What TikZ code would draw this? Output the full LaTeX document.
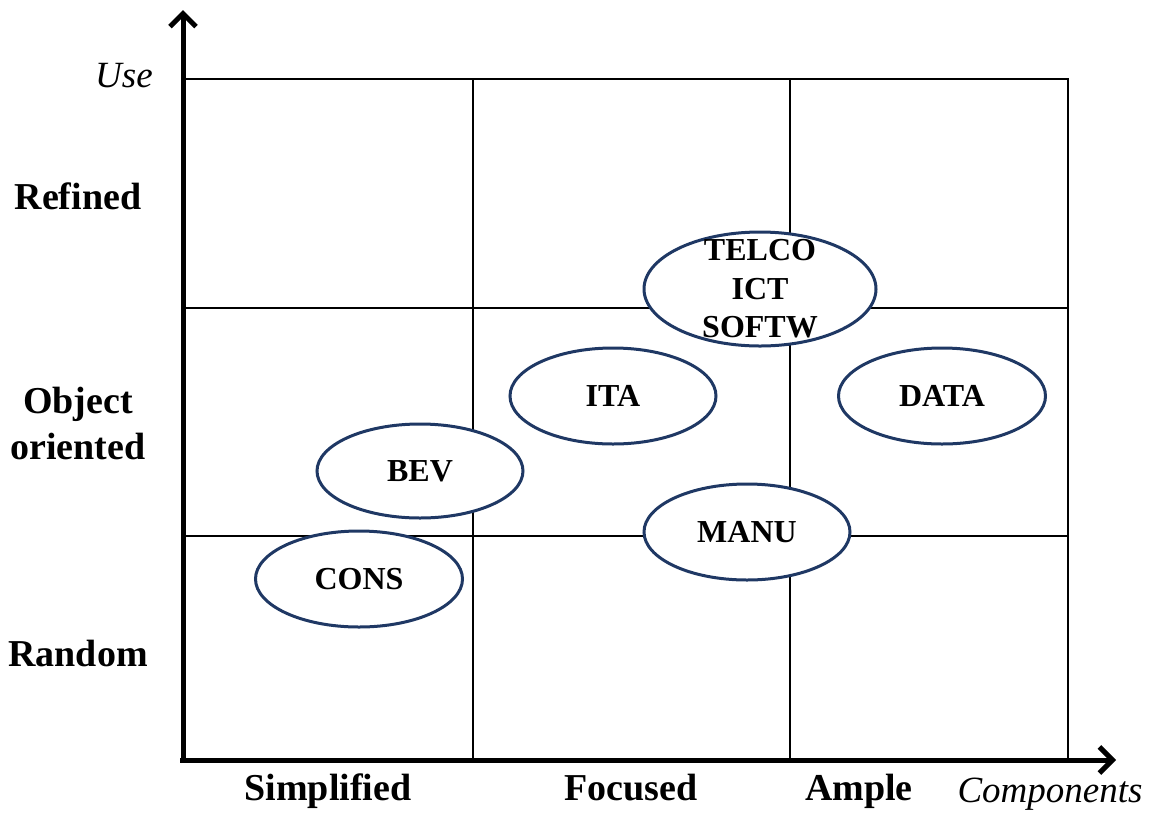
\documentclass[tikz,border=0pt]{standalone}
\usepackage{fontspec}
\setmainfont{Liberation Serif}
\usetikzlibrary{shapes.geometric,arrows.meta}
\definecolor{rimblue}{HTML}{1F3864}
\tikzset{
  gridline/.style={black, line width=2pt},
  axisline/.style={black, line width=5pt, -{Straight Barb[length=13pt,width=26pt]}},
  sector/.style={ellipse, draw=rimblue, line width=3pt, fill=white, inner sep=0pt,
    align=center, font=\fontsize{32}{38.5}\selectfont\bfseries},
  levellabel/.style={align=center, font=\fontsize{38}{46}\selectfont\bfseries},
  axisname/.style={font=\fontsize{37}{40}\selectfont\itshape}
}
\begin{document}
\begin{tikzpicture}[x=1pt, y=-1pt]
\useasboundingbox (0,0) rectangle (1151,812);
% grid cells
\coordinate (o) at (183,760);
\draw[gridline] (183,79) -- (1068,79) -- (1068,760);
\draw[gridline] (183,308) -- (1068,308);
\draw[gridline] (183,536) -- (1068,536);
\draw[gridline] (473,79) -- (473,760);
\draw[gridline] (790,79) -- (790,760);
% axes
\coordinate (ytip) at (183,10);
\coordinate (xtip) at (1116,760);
\draw[axisline] (183,763) -- (ytip);
\draw[axisline] (180,760) -- (xtip);
% axis names
\node[axisname, anchor=base] (use) at (124,87) {Use};
\node[axisname, anchor=base] (comp) at (1050,802) {Components};
% level labels
\node[levellabel] (refined) at (78,196) {Refined};
\node[levellabel] (objor) at (78,423) {Object\\oriented};
\node[levellabel] (random) at (78,653) {Random};
\node[levellabel, anchor=base] (simp) at (328,800) {Simplified};
\node[levellabel, anchor=base] (foc) at (631,800) {Focused};
\node[levellabel, anchor=base] (ample) at (859,800) {Ample};
% sectors (the three-line one keeps its size; its text may touch the rim)
\node[sector, inner ysep=-16pt, minimum width=232pt, minimum height=114pt] (telco) at (760,289) {TELCO\\ICT\\SOFTW};
\node[sector, minimum width=206pt, minimum height=96pt] (ita) at (613,396) {ITA};
\node[sector, minimum width=207pt, minimum height=96pt] (data) at (942,396) {DATA};
\node[sector, minimum width=206pt, minimum height=94pt] (bev) at (420,471) {BEV};
\node[sector, minimum width=206pt, minimum height=96pt] (manu) at (747,532) {MANU};
\node[sector, minimum width=207pt, minimum height=96pt] (cons) at (359,579) {CONS};
\end{tikzpicture}
\end{document}
